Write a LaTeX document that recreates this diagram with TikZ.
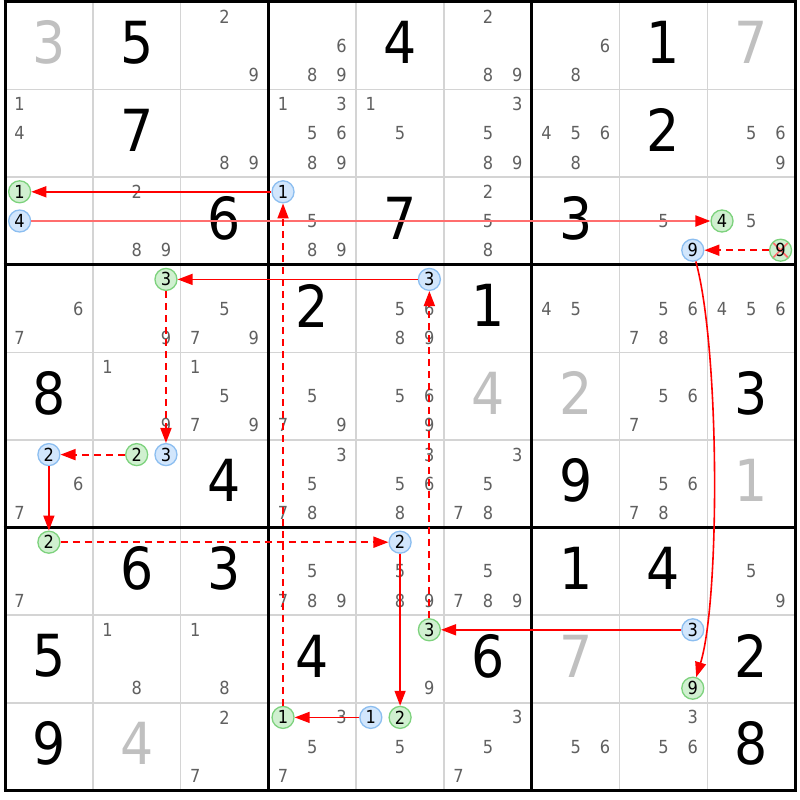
\documentclass[tikz,border=0pt]{standalone}
\usepackage{fontspec}
\setmainfont[FakeStretch=0.9]{DejaVu Sans}
\usetikzlibrary{arrows.meta}
\definecolor{candgray}{RGB}{96,96,96}
\definecolor{givengray}{RGB}{192,192,192}
\definecolor{gridgray}{RGB}{212,212,212}
\definecolor{gfill}{RGB}{208,240,208}
\definecolor{gline}{RGB}{125,210,125}
\definecolor{bfill}{RGB}{210,230,252}
\definecolor{bline}{RGB}{140,190,240}
\definecolor{linkred}{RGB}{255,0,0}
\definecolor{linkpink}{RGB}{255,110,110}
\newcommand\cands[3]{%
  \foreach \d in {#3}{%
    \pgfmathsetmacro\px{5+(#2-1)*87.8+87.8*(2*mod(\d-1,3)+1)/6}%
    \pgfmathsetmacro\py{2+(#1-1)*87.6+87.6*(2*div(\d-1,3)+1)/6}%
    \node[cand] (k#1#2\d) at (\px,\py) {\d};}}
\newcommand\markedcand[5]{% style r c d name
  \pgfmathsetmacro\px{5+(#3-1)*87.8+87.8*(2*mod(#4-1,3)+1)/6}%
  \pgfmathsetmacro\py{2+(#2-1)*87.6+87.6*(2*div(#4-1,3)+1)/6}%
  \node[#1] (#5) at (\px,\py) {#4};}
\newcommand\bigdigit[4]{% colour r c d
  \pgfmathsetmacro\px{5+(#3-0.5)*87.8}%
  \pgfmathsetmacro\py{2+(#2-0.5)*87.6-3}%
  \node[big,text=#1] (v#2#3) at (\px,\py) {#4};}
\begin{document}
\begin{tikzpicture}[x=1pt,y=-1pt,
  cand/.style={inner sep=0pt,text=candgray,font=\fontsize{18}{18}\selectfont},
  big/.style={inner sep=0pt,font=\fontsize{58}{58}\selectfont},
  gc/.style={circle,minimum size=22pt,inner sep=0pt,draw=gline,fill=gfill,line width=1.3pt,text=black,font=\fontsize{18}{18}\selectfont},
  bc/.style={gc,draw=bline,fill=bfill},
  gx/.style={gc,path picture={\draw[linkpink,line width=1.6pt,shorten <=4.5pt,shorten >=4.5pt]
      (path picture bounding box.south west) -- (path picture bounding box.north east);
      \draw[linkpink,line width=1.6pt,shorten <=4.5pt,shorten >=4.5pt]
      (path picture bounding box.north west) -- (path picture bounding box.south east);}},
  strong/.style={draw=linkred,line width=1.6pt,-{Triangle[length=15pt,width=11pt]}},
  strongpink/.style={draw=linkpink,line width=2pt,-{Triangle[length=15pt,width=11pt,color=linkred]}},
  weak/.style={draw=linkred,line width=1.8pt,dash pattern=on 7pt off 5pt,-{Triangle[length=15pt,width=11pt]}},
  thingrid/.style={draw=gridgray,line width=1.5pt},
  thickgrid/.style={draw=black,line width=3pt}]
\useasboundingbox (0,0) rectangle (800,800);
\fill[white] (0,0) rectangle (800,800);
% thin grid
\foreach \i in {1,2,4,5,7,8}{
  \draw[thingrid] ({5+\i*87.8},2) -- ({5+\i*87.8},790.4);
  \draw[thingrid] (5,{2+\i*87.6}) -- (795.2,{2+\i*87.6});}
% thick grid
\foreach \i in {0,3,6,9}{
  \draw[thickgrid] ({5+\i*87.8},0.5) -- ({5+\i*87.8},791.9);
  \draw[thickgrid] (3.5,{2+\i*87.6}) -- (796.7,{2+\i*87.6});}
% given / solved digits
\bigdigit{givengray}{1}{1}{3}
\bigdigit{black}{1}{2}{5}
\bigdigit{black}{1}{5}{4}
\bigdigit{black}{1}{8}{1}
\bigdigit{givengray}{1}{9}{7}
\bigdigit{black}{2}{2}{7}
\bigdigit{black}{2}{8}{2}
\bigdigit{black}{3}{3}{6}
\bigdigit{black}{3}{5}{7}
\bigdigit{black}{3}{7}{3}
\bigdigit{black}{4}{4}{2}
\bigdigit{black}{4}{6}{1}
\bigdigit{black}{5}{1}{8}
\bigdigit{givengray}{5}{6}{4}
\bigdigit{givengray}{5}{7}{2}
\bigdigit{black}{5}{9}{3}
\bigdigit{black}{6}{3}{4}
\bigdigit{black}{6}{7}{9}
\bigdigit{givengray}{6}{9}{1}
\bigdigit{black}{7}{2}{6}
\bigdigit{black}{7}{3}{3}
\bigdigit{black}{7}{7}{1}
\bigdigit{black}{7}{8}{4}
\bigdigit{black}{8}{1}{5}
\bigdigit{black}{8}{4}{4}
\bigdigit{black}{8}{6}{6}
\bigdigit{givengray}{8}{7}{7}
\bigdigit{black}{8}{9}{2}
\bigdigit{black}{9}{1}{9}
\bigdigit{givengray}{9}{2}{4}
\bigdigit{black}{9}{9}{8}
% candidates
\cands{1}{3}{2,9}
\cands{1}{4}{6,8,9}
\cands{1}{6}{2,8,9}
\cands{1}{7}{6,8}
\cands{2}{1}{1,4}
\cands{2}{3}{8,9}
\cands{2}{4}{1,3,5,6,8,9}
\cands{2}{5}{1,5}
\cands{2}{6}{3,5,8,9}
\cands{2}{7}{4,5,6,8}
\cands{2}{9}{5,6,9}
\cands{3}{2}{2,8,9}
\cands{3}{4}{5,8,9}
\cands{3}{6}{2,5,8}
\cands{3}{8}{5}
\cands{3}{9}{5}
\cands{4}{1}{6,7}
\cands{4}{2}{9}
\cands{4}{3}{5,7,9}
\cands{4}{5}{5,6,8,9}
\cands{4}{7}{4,5}
\cands{4}{8}{5,6,7,8}
\cands{4}{9}{4,5,6}
\cands{5}{2}{1,9}
\cands{5}{3}{1,5,7,9}
\cands{5}{4}{5,7,9}
\cands{5}{5}{5,6,9}
\cands{5}{8}{5,6,7}
\cands{6}{1}{6,7}
\cands{6}{4}{3,5,7,8}
\cands{6}{5}{3,5,6,8}
\cands{6}{6}{3,5,7,8}
\cands{6}{8}{5,6,7,8}
\cands{7}{1}{7}
\cands{7}{4}{5,7,8,9}
\cands{7}{5}{5,8,9}
\cands{7}{6}{5,7,8,9}
\cands{7}{9}{5,9}
\cands{8}{2}{1,8}
\cands{8}{3}{1,8}
\cands{8}{5}{9}
\cands{9}{3}{2,7}
\cands{9}{4}{3,5,7}
\cands{9}{5}{5}
\cands{9}{6}{3,5,7}
\cands{9}{7}{5,6}
\cands{9}{8}{3,5,6}
% marked candidates
\markedcand{gc}{3}{1}{1}{g311}
\markedcand{bc}{3}{1}{4}{b314}
\markedcand{bc}{3}{4}{1}{b341}
\markedcand{bc}{3}{8}{9}{b389}
\markedcand{gc}{3}{9}{4}{g394}
\markedcand{gx}{3}{9}{9}{g399}
\markedcand{gc}{4}{2}{3}{g423}
\markedcand{bc}{4}{5}{3}{b453}
\markedcand{bc}{6}{1}{2}{b612}
\markedcand{gc}{6}{2}{2}{g622}
\markedcand{bc}{6}{2}{3}{b623}
\markedcand{gc}{7}{1}{2}{g712}
\markedcand{bc}{7}{5}{2}{b752}
\markedcand{gc}{8}{5}{3}{g853}
\markedcand{bc}{8}{8}{3}{b883}
\markedcand{gc}{8}{8}{9}{g889}
\markedcand{gc}{9}{4}{1}{g941}
\markedcand{bc}{9}{5}{1}{b951}
\markedcand{gc}{9}{5}{2}{g952}
% links
\draw[strong] (b341) -- (g311);
\draw[strongpink] (b314) -- (g394);
\draw[weak] (g399) -- (b389);
\draw[strong] (b389) .. controls (720,350) and (720,600) .. (g889);
\draw[strong] (b883) -- (g853);
\draw[weak] (g853) -- (b453);
\draw[strong] (b453) -- (g423);
\draw[weak] (g423) -- (b623);
\draw[weak] (g622) -- (b612);
\draw[strong] (b612) -- (g712);
\draw[weak] (g712) -- (b752);
\draw[strong] (b752) -- (g952);
\draw[strong] (b951) -- (g941);
\draw[weak] (g941) -- (b341);
\end{tikzpicture}
\end{document}
